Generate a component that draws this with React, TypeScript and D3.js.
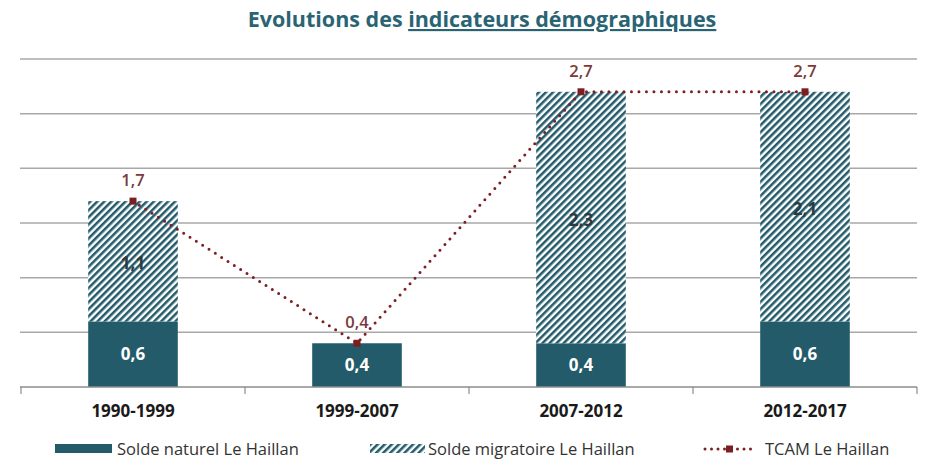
import React from "react";
import * as d3 from "d3";

const categories = ["1990-1999", "1999-2007", "2007-2012", "2012-2017"];
const soldeNaturel = [0.6, 0.4, 0.4, 0.6];
const soldeMigratoire = [1.1, 0, 2.3, 2.1];
const tcam = [1.7, 0.4, 2.7, 2.7];
const gridValues = [0.5, 1, 1.5, 2, 2.5, 3];
const legendLabels = ["Solde naturel Le Haillan", "Solde migratoire Le Haillan", "TCAM Le Haillan"];

const W = 928;
const H = 460;
const TEAL = "#235b6a";
const RED = "#7d1f22";
const fmt = (v: number) => String(v.toFixed(1)).replace(".", ",");

export default function App() {
  const x = d3.scaleBand<string>().domain(categories).range([21, 917]).padding(0);
  const y = d3.scaleLinear().domain([0, 3]).range([387, 59]);
  const barW = x.bandwidth() * 0.4;
  const cx = (c: string) => (x(c) as number) + x.bandwidth() / 2;

  const line = d3
    .line<number>()
    .x((_, i) => cx(categories[i]))
    .y((d) => y(d));

  const boundaries = [...categories.map((c) => x(c) as number), 917];

  return (
    <svg
      width={W}
      height={H}
      style={{ position: "absolute", left: 0, top: 0, background: "#fff" }}
      fontFamily="'Open Sans', sans-serif"
    >
      <defs>
        <pattern id="hatch" patternUnits="userSpaceOnUse" width={5} height={5} patternTransform="rotate(45)">
          <rect width={5} height={5} fill="#fff" />
          <line x1={1.25} y1={0} x2={1.25} y2={5} stroke={TEAL} strokeWidth={2.6} />
        </pattern>
      </defs>

      {/* Title */}
      <text x={482} y={27} textAnchor="middle" fontSize={21.5} fontWeight={700} fill="#2a6474">
        <tspan>Evolutions des </tspan>
        <tspan textDecoration="underline">indicateurs démographiques</tspan>
      </text>

      {/* Grid */}
      {gridValues.map((v) => (
        <line key={v} x1={20} x2={917} y1={y(v)} y2={y(v)} stroke="#a8a8a8" strokeWidth={1.5} />
      ))}

      {/* Bars */}
      {categories.map((c, i) => {
        const left = cx(c) - barW / 2;
        const yn = y(soldeNaturel[i]);
        const ym = y(soldeNaturel[i] + soldeMigratoire[i]);
        return (
          <g key={c}>
            <rect x={left} y={yn} width={barW} height={y(0) - yn} fill={TEAL} />
            {soldeMigratoire[i] > 0 && (
              <rect x={left} y={ym} width={barW} height={yn - ym} fill="url(#hatch)" />
            )}
          </g>
        );
      })}

      {/* Baseline axis */}
      <line x1={20} x2={917} y1={y(0)} y2={y(0)} stroke="#8c8c8c" strokeWidth={1.5} />
      {boundaries.map((b, i) => (
        <line key={i} x1={b} x2={b} y1={y(0)} y2={y(0) + 7} stroke="#8c8c8c" strokeWidth={1.2} />
      ))}

      {/* Bar labels */}
      {categories.map((c, i) => {
        const yn = y(soldeNaturel[i]);
        const ym = y(soldeNaturel[i] + soldeMigratoire[i]);
        return (
          <g key={"l" + c}>
            <text x={cx(c)} y={(yn + y(0)) / 2 + 6} textAnchor="middle" fontSize={17} fontWeight={700} fill="#fff">
              {fmt(soldeNaturel[i])}
            </text>
            {soldeMigratoire[i] > 0 && (
              <text x={cx(c)} y={(ym + yn) / 2 + 8} textAnchor="middle" fontSize={17} fontWeight={700} fill="#2e3a3d">
                {fmt(soldeMigratoire[i])}
              </text>
            )}
          </g>
        );
      })}

      {/* TCAM line */}
      <path
        d={line(tcam) || ""}
        fill="none"
        stroke={RED}
        strokeWidth={3}
        strokeDasharray="0 7.5"
        strokeLinecap="round"
      />
      {tcam.map((v, i) => (
        <g key={"t" + i}>
          <rect x={cx(categories[i]) - 3.5} y={y(v) - 3.5} width={7} height={7} fill={RED} />
          <text x={cx(categories[i])} y={y(v) - 15} textAnchor="middle" fontSize={16.5} fontWeight={600} fill="#7a3a3a">
            {fmt(v)}
          </text>
        </g>
      ))}

      {/* Category labels */}
      {categories.map((c) => (
        <text key={"c" + c} x={cx(c)} y={417} textAnchor="middle" fontSize={17} fontWeight={700} fill="#1a1a1a">
          {c}
        </text>
      ))}

      {/* Legend */}
      <g fontSize={16.5} fill="#333">
        <rect x={55} y={444} width={57} height={9} fill={TEAL} />
        <text x={117} y={455}>{legendLabels[0]}</text>

        <rect x={370} y={444} width={55} height={9} fill="url(#hatch)" />
        <text x={428} y={455}>{legendLabels[1]}</text>

        <line x1={705} x2={752} y1={449} y2={449} stroke={RED} strokeWidth={3} strokeDasharray="0 6.5" strokeLinecap="round" />
        <rect x={726} y={445.5} width={7} height={7} fill={RED} />
        <text x={765} y={455}>{legendLabels[2]}</text>
      </g>
    </svg>
  );
}
